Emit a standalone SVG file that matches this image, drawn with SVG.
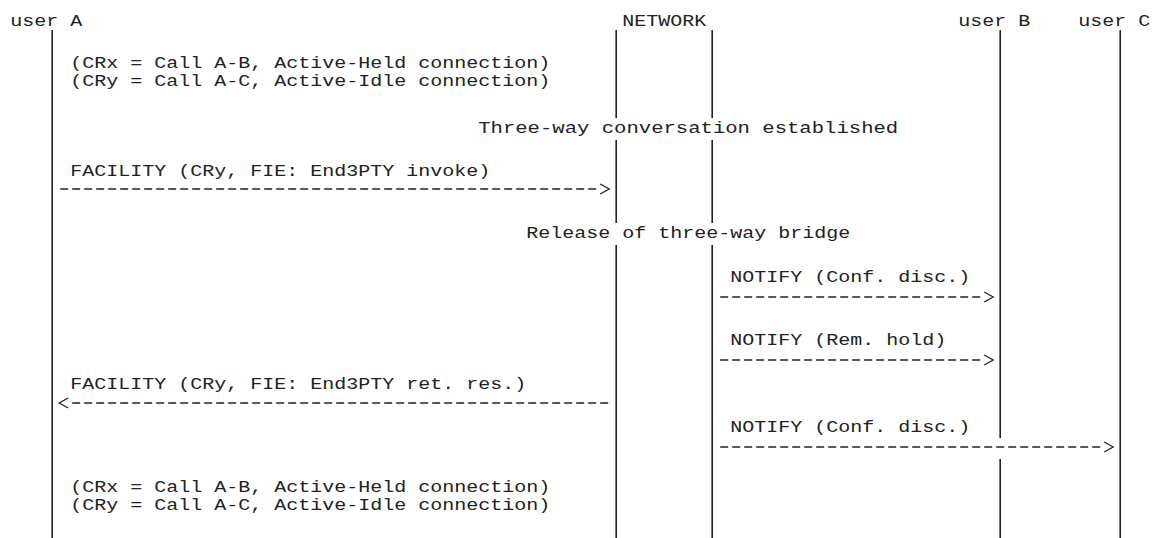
<svg xmlns="http://www.w3.org/2000/svg" width="1157" height="538" viewBox="0 0 1157 538">
<style>
  text { font-family: "Liberation Mono", "Courier New", monospace; font-size: 16px; fill: #222; }
  .life { stroke: #222; stroke-width: 1.6; fill: none; }
  .msg { stroke: #222; stroke-width: 1.3; stroke-dasharray: 8 4; fill: none; marker-end: url(#chev); }
</style>
<defs>
  <marker id="chev" markerUnits="userSpaceOnUse" markerWidth="14" markerHeight="14" viewBox="0 -7 14 14" refX="0" refY="0" orient="auto" overflow="visible">
    <path d="M2,-5 L11,0 L2,5" fill="none" stroke="#222" stroke-width="1.3"/>
  </marker>
</defs>
<rect width="1157" height="538" fill="#fff"/>

<g id="userA">
  <text x="10.2" y="26" textLength="72" lengthAdjust="spacingAndGlyphs">user A</text>
  <line class="life" x1="52.2" y1="30" x2="52.2" y2="538"/>
</g>
<g id="network">
  <text x="622.2" y="26" textLength="84" lengthAdjust="spacingAndGlyphs">NETWORK</text>
  <path class="life" d="M616.2,30 V118 M616.2,140 V223 M616.2,245 V538"/>
  <path class="life" d="M712.2,30 V118 M712.2,140 V223 M712.2,245 V538"/>
</g>
<g id="userB">
  <text x="958.2" y="26" textLength="72" lengthAdjust="spacingAndGlyphs">user B</text>
  <path class="life" d="M1000.2,30 V438 M1000.2,459 V538"/>
</g>
<g id="userC">
  <text x="1078.2" y="26" textLength="72" lengthAdjust="spacingAndGlyphs">user C</text>
  <line class="life" x1="1120.2" y1="30" x2="1120.2" y2="538"/>
</g>

<g id="notes">
  <text x="70.2" y="67.5" textLength="480" lengthAdjust="spacingAndGlyphs">(CRx = Call A-B, Active-Held connection)</text>
  <text x="70.2" y="86" textLength="480" lengthAdjust="spacingAndGlyphs">(CRy = Call A-C, Active-Idle connection)</text>
  <text x="478.2" y="133" textLength="420" lengthAdjust="spacingAndGlyphs">Three-way conversation established</text>
  <text x="526.2" y="238" textLength="324" lengthAdjust="spacingAndGlyphs">Release of three-way bridge</text>
  <text x="70.2" y="491.5" textLength="480" lengthAdjust="spacingAndGlyphs">(CRx = Call A-B, Active-Held connection)</text>
  <text x="70.2" y="510" textLength="480" lengthAdjust="spacingAndGlyphs">(CRy = Call A-C, Active-Idle connection)</text>
</g>

<g id="connectors">
  <line class="msg" x1="60.2" y1="189" x2="598.2" y2="189"/>
  <line class="msg" x1="720.2" y1="297" x2="982.2" y2="297"/>
  <line class="msg" x1="720.2" y1="360" x2="982.2" y2="360"/>
  <line class="msg" x1="608.2" y1="403" x2="70.2" y2="403"/>
  <line class="msg" x1="720.2" y1="447" x2="1102.2" y2="447"/>
</g>

<g id="labels">
  <text x="70.2" y="176" textLength="420" lengthAdjust="spacingAndGlyphs">FACILITY (CRy, FIE: End3PTY invoke)</text>
  <text x="730.2" y="282" textLength="240" lengthAdjust="spacingAndGlyphs">NOTIFY (Conf. disc.)</text>
  <text x="730.2" y="345" textLength="216" lengthAdjust="spacingAndGlyphs">NOTIFY (Rem. hold)</text>
  <text x="70.2" y="389" textLength="456" lengthAdjust="spacingAndGlyphs">FACILITY (CRy, FIE: End3PTY ret. res.)</text>
  <text x="730.2" y="432" textLength="240" lengthAdjust="spacingAndGlyphs">NOTIFY (Conf. disc.)</text>
</g>
</svg>
